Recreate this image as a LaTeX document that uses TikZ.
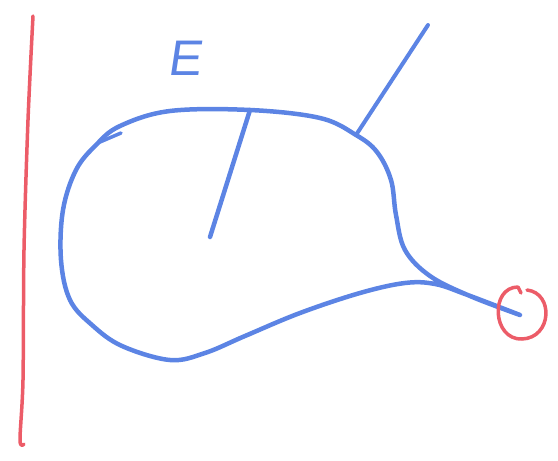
\documentclass[tikz,border=0pt]{standalone}
\usepackage{fontspec}
\setsansfont{Liberation Sans}
\definecolor{pen blue}{RGB}{92,132,228}
\definecolor{pen red}{RGB}{236,92,104}

\begin{document}
\begin{tikzpicture}[x=1pt,y=-1pt,
    penline/.style={line width=4.5pt,line cap=round,line join=round},
    blueline/.style={penline,pen blue},
    redline/.style={penline,line width=3.5pt,pen red}]
  \useasboundingbox (0,0) rectangle (558,461);

  \coordinate (tip) at (520,315);
  \coordinate (rim) at (250,110);
  \coordinate (centre) at (210,237);
  \coordinate (cut) at (356,135);
  \coordinate (far) at (428,25);

  % wall
  \draw[redline] plot[smooth] coordinates {(33,16) (28,120) (24,250) (23,380) (20,440) (24,444)};

  % the closed surface
  \draw[blueline] plot[smooth,tension=0.6] coordinates {(tip) (470,296) (430,276) (405,250) (396,215)
    (391,180) (377,152) (cut) (320,118) (rim) (170,111) (120,126) (96,145) (76,170)
    (63,210) (61,260) (70,300) (92,325) (122,346) (170,360) (205,353) (245,336)
    (300,313) (360,293) (405,283) (435,284) (465,294) (tip)};
  \draw[blueline,line width=3.5pt] (100,142) -- (121,133);

  % lines
  \draw[blueline] (centre) -- (rim);
  \draw[blueline,line width=4pt] (cut) -- (far);

  % charge
  \draw[redline] (527,290) .. controls (554,293) and (552,338) .. (522,339)
    .. controls (492,340) and (490,287) .. (518,287) -- (521,293);

  \node[font=\sffamily\fontsize{50}{50}\selectfont,text=pen blue,xslant=0.15] (label) at (187,58) {E};
\end{tikzpicture}
\end{document}
